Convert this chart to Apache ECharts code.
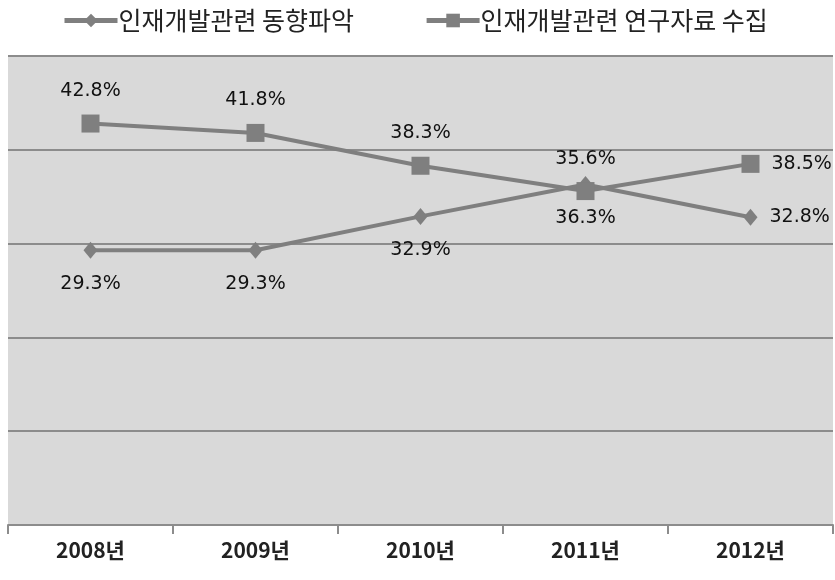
<!DOCTYPE html>
<html><head><meta charset="utf-8">
<script src="https://cdn.jsdelivr.net/npm/echarts@6/dist/echarts.min.js"></script>
<style>html,body{margin:0;padding:0;background:#fff}#c{width:835px;height:580px}</style>
</head><body><div id="c"></div>
<script>
const categories = ['2008년','2009년','2010년','2011년','2012년'];
const seriesNames = ['인재개발관련 동향파악','인재개발관련 연구자료 수집'];
const trendValues = [29.3, 29.3, 32.9, 36.3, 32.8];
const researchValues = [42.8, 41.8, 38.3, 35.6, 38.5];
const yTicks = [0, 10, 20, 30, 40, 50];

const labelFont = {fontFamily:'DejaVu Sans', fontSize:19, color:'#111'};
function pts(vals, pos, dist) {
  return vals.map((v,i)=>({
    value: v,
    label: i === vals.length-1 ? {position:'right', distance:12} : {position:pos, distance:dist}
  }));
}
const chart = echarts.init(document.getElementById('c'));
chart.setOption({
  animation:false,
  legend:{
    top:3, left:57, itemWidth:53, itemHeight:17, itemGap:70,
    lineStyle:{width:5},
    textStyle:{fontFamily:'Noto Sans CJK KR', fontSize:25, color:'#222', padding:[0,0,0,-4]},
    data: seriesNames
  },
  grid:{left:8, right:2, top:56, bottom:55, show:true, backgroundColor:'#d9d9d9', borderWidth:0},
  xAxis:{
    type:'category', data:categories, boundaryGap:true,
    axisLine:{lineStyle:{color:'#8c8c8c', width:2}},
    axisTick:{show:true, length:9, lineStyle:{color:'#8c8c8c', width:2}},
    axisLabel:{margin:15, fontFamily:'Noto Sans CJK KR', fontSize:21, fontWeight:'bold', color:'#222'}
  },
  yAxis:{
    type:'value', min:yTicks[0], max:yTicks[yTicks.length-1], interval:10,
    axisLabel:{show:false}, axisLine:{show:false}, axisTick:{show:false},
    splitLine:{lineStyle:{color:'#8c8c8c', width:2}}
  },
  series:[
    {name:seriesNames[0], type:'line', data:pts(trendValues,'bottom',16),
     symbol:'diamond', symbolSize:[14,17],
     lineStyle:{color:'#7f7f7f', width:4}, itemStyle:{color:'#7f7f7f'},
     label:{show:true, formatter:p=>p.value.toFixed(1)+'%', ...labelFont}},
    {name:seriesNames[1], type:'line', data:pts(researchValues,'top',14),
     symbol:'rect', symbolSize:18,
     lineStyle:{color:'#7f7f7f', width:4}, itemStyle:{color:'#7f7f7f'},
     label:{show:true, formatter:p=>p.value.toFixed(1)+'%', ...labelFont}}
  ]
});
</script></body></html>
